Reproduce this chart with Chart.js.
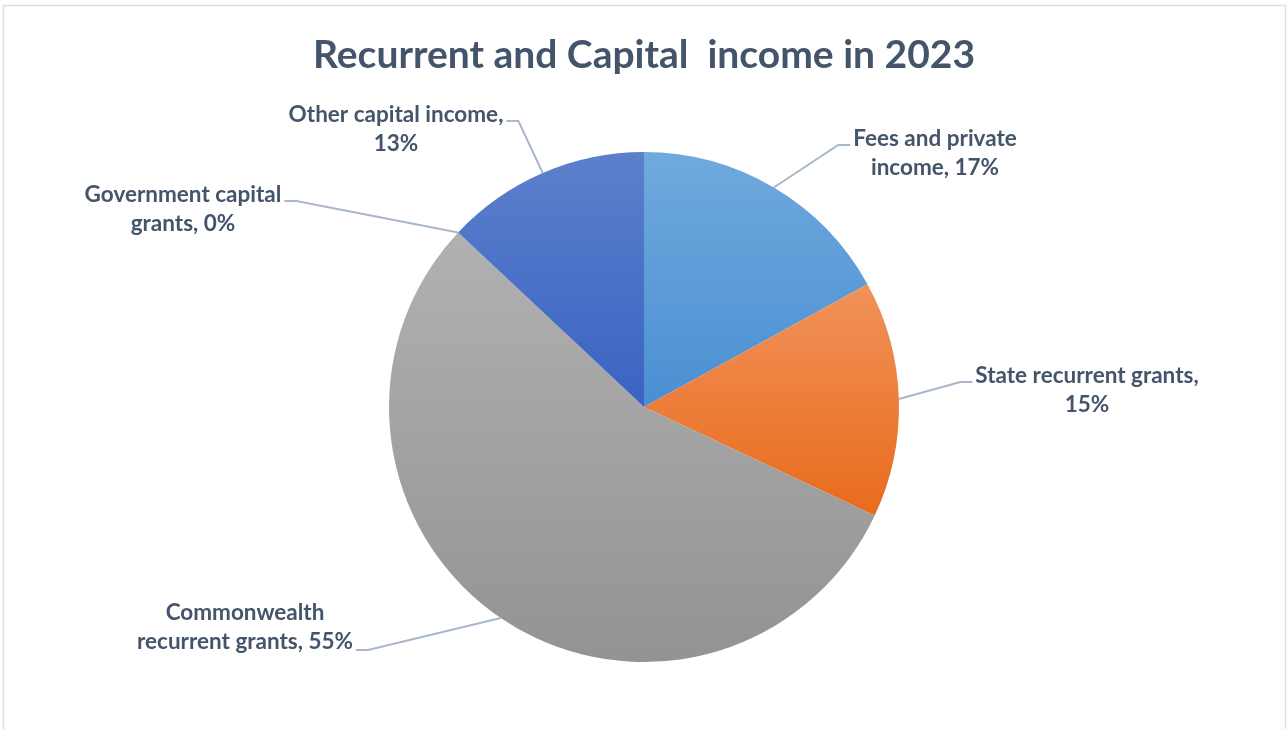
<!DOCTYPE html>
<html>
<head>
<meta charset="utf-8">
<script src="https://cdn.jsdelivr.net/npm/chart.js@4.4.1/dist/chart.umd.min.js"></script>
<style>
  html, body { margin: 0; padding: 0; background: #ffffff; }
  #wrap { width: 1288px; height: 729px; position: relative; }
</style>
</head>
<body>
<div id="wrap"><canvas id="incomeChart" width="1288" height="729"></canvas></div>
<script>
// income shares, clockwise from 12 o'clock
var categories = [
  'Fees and private income',
  'State recurrent grants',
  'Commonwealth recurrent grants',
  'Government capital grants',
  'Other capital income'
];
var shares = [17, 15, 55, 0, 13];

// label text lines for each slice
var labelLines = [
  ['Fees and private', 'income, 17%'],
  ['State recurrent grants,', '15%'],
  ['Commonwealth', 'recurrent grants, 55%'],
  ['Government capital', 'grants, 0%'],
  ['Other capital income,', '13%']
];

// top / bottom colours of each slice gradient
var topColors = ['#70a9de', '#f1925a', '#b1b1b1', '#8aa8da', '#5c80cc'];
var bottomColors = ['#4a8fd2', '#e86b1c', '#939393', '#3a62c0', '#3a63c2'];

var TEXT = '#44546a';
var LEADER = '#a9b7ca';

// where each label block sits (centre of text), which line the leader hooks to and from which side
var labelPlace = [
  { x: 935, y: 139, hook: 0, side: 'left',  ly: 145 },
  { x: 1087, y: 376, hook: 0, side: 'left',  ly: 382 },
  { x: 245, y: 613, hook: 1, side: 'right', ly: 650 },
  { x: 183, y: 195, hook: 0, side: 'right', ly: 201 },
  { x: 396, y: 115, hook: 0, side: 'right', ly: 121 }
];

// vertical gradient across each slice's own bounding box
var sliceGradients = {
  id: 'sliceGradients',
  beforeDatasetsDraw: function(chart) {
    var ctx = chart.ctx;
    var meta = chart.getDatasetMeta(0);
    meta.data.forEach(function(arc, i) {
      var r = arc.outerRadius;
      var ys = [arc.y, arc.y + r * Math.sin(arc.startAngle), arc.y + r * Math.sin(arc.endAngle)];
      // include top / bottom of the circle when the slice spans them
      [-Math.PI / 2, Math.PI / 2, 3 * Math.PI / 2].forEach(function(a) {
        if (a >= arc.startAngle && a <= arc.endAngle) ys.push(arc.y + r * Math.sin(a));
      });
      var y0 = Math.min.apply(null, ys);
      var y1 = Math.max.apply(null, ys);
      if (y1 - y0 < 1) y1 = y0 + 1;
      var g = ctx.createLinearGradient(0, y0, 0, y1);
      g.addColorStop(0, topColors[i]);
      g.addColorStop(1, bottomColors[i]);
      arc.options.backgroundColor = g;
    });
  }
};

// outer frame line
var frame = {
  id: 'frame',
  beforeDraw: function(chart) {
    var ctx = chart.ctx;
    ctx.save();
    ctx.strokeStyle = '#dcdfe6';
    ctx.lineWidth = 1.5;
    ctx.strokeRect(3.5, 5.5, 1282, 760);
    ctx.restore();
  }
};

// category labels with leader lines
var sliceLabels = {
  id: 'sliceLabels',
  afterDatasetsDraw: function(chart) {
    var ctx = chart.ctx;
    var meta = chart.getDatasetMeta(0);
    ctx.save();
    ctx.font = 'bold 22.5px Lato';
    ctx.fillStyle = TEXT;
    ctx.textAlign = 'center';
    ctx.textBaseline = 'middle';
    meta.data.forEach(function(arc, i) {
      var p = labelPlace[i];
      var lines = labelLines[i];
      var lineH = (lines.length > 1) ? 29 : 0;
      lines.forEach(function(t, k) {
        ctx.fillText(t, p.x, p.y + k * lineH);
      });
      // leader: slice edge -> elbow -> text edge
      var w = ctx.measureText(lines[p.hook]).width;
      var edgeX = p.side === 'right' ? p.x + w / 2 + 3 : p.x - w / 2 - 3;
      var elbowX = p.side === 'right' ? edgeX + 12 : edgeX - 12;
      var mid = (arc.startAngle + arc.endAngle) / 2;
      var ax = arc.x + arc.outerRadius * Math.cos(mid);
      var ay = arc.y + arc.outerRadius * Math.sin(mid);
      ctx.beginPath();
      ctx.strokeStyle = LEADER;
      ctx.lineWidth = 2;
      ctx.moveTo(ax, ay);
      ctx.lineTo(elbowX, p.ly);
      ctx.lineTo(edgeX, p.ly);
      ctx.stroke();
    });
    ctx.restore();
  }
};

new Chart(document.getElementById('incomeChart'), {
  type: 'pie',
  data: {
    labels: categories,
    datasets: [{
      data: shares,
      backgroundColor: bottomColors,
      borderWidth: 0
    }]
  },
  options: {
    responsive: false,
    animation: false,
    layout: { padding: { top: 0, bottom: 67, left: 0, right: 0 } },
    plugins: {
      legend: { display: false },
      tooltip: { enabled: false },
      title: {
        display: true,
        text: 'Recurrent and Capital  income in 2023',
        color: TEXT,
        font: { family: 'Lato', size: 39, weight: 'bold', lineHeight: 1.2 },
        padding: { top: 32, bottom: 73.2 }
      }
    }
  },
  plugins: [frame, sliceGradients, sliceLabels]
});
</script>
</body>
</html>
